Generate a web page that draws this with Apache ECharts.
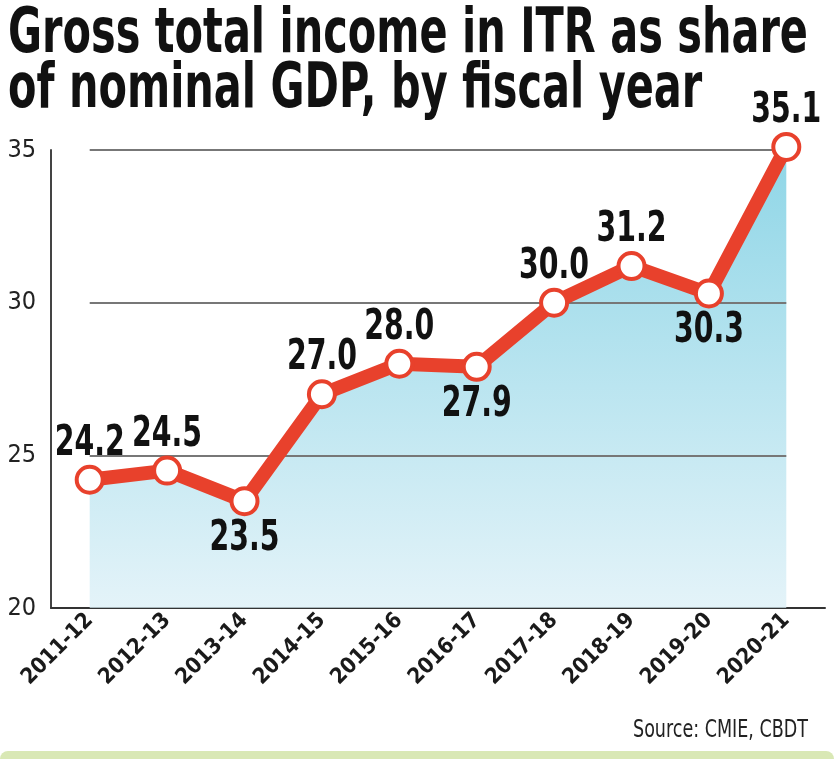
<!DOCTYPE html>
<html>
<head>
<meta charset="utf-8">
<title>ITR income share of GDP</title>
<script src="https://cdn.jsdelivr.net/npm/echarts@6/dist/echarts.min.js"></script>
<style>
  html, body { margin: 0; padding: 0; background: #fff; }
  #chart { width: 834px; height: 759px; }
</style>
</head>
<body>
<div id="chart"></div>
<script>
// fiscal years and share of GDP (%)
var years = ['2011-12', '2012-13', '2013-14', '2014-15', '2015-16', '2016-17', '2017-18', '2018-19', '2019-20', '2020-21'];
var shares = [24.2, 24.5, 23.5, 27.0, 28.0, 27.9, 30.0, 31.2, 30.3, 35.1];
// which labels sit under the point
var labelBelow = [false, false, true, false, false, true, false, false, true, false];
var yTicks = [25, 30, 35];

var titleLines = ['Gross total income in ITR as share', 'of nominal GDP, by fiscal year'];
var sourceText = 'Source: CMIE, CBDT';

var fam = '"DejaVu Sans Condensed", "DejaVu Sans", sans-serif';

// the original uses a very narrow face, so squeeze text horizontally
var ctx = document.createElement('canvas').getContext('2d');
function textWidth(txt, font) {
  ctx.font = font;
  return ctx.measureText(txt).width;
}
var titleFont = 'bold 62px ' + fam;
var titleScale = 800 / textWidth(titleLines[0], titleFont);
var sourceFont = '24px ' + fam;
var sourceScale = 175 / textWidth(sourceText, sourceFont);
var labelFont = 'bold 42px ' + fam;
var labelScale = 70 / textWidth('24.2', labelFont);

var chart = echarts.init(document.getElementById('chart'));

var gridLines = yTicks.map(function (t) {
  return [{ xAxis: -0.5, yAxis: t }, { xAxis: years.length - 1, yAxis: t }];
});

var labelData = shares.map(function (v, i) {
  return [i, v, labelBelow[i] ? 1 : 0];
});

var option = {
  backgroundColor: '#fff',
  animation: false,
  graphic: [{
    type: 'text',
    x: 8, y: 36,
    scaleX: titleScale,
    silent: true,
    style: { text: titleLines[0], font: titleFont, fill: '#111', align: 'left', verticalAlign: 'middle' }
  }, {
    type: 'text',
    x: 8, y: 91,
    scaleX: titleScale,
    silent: true,
    style: { text: titleLines[1], font: titleFont, fill: '#111', align: 'left', verticalAlign: 'middle' }
  }, {
    type: 'text',
    x: 808, y: 731,
    scaleX: sourceScale,
    silent: true,
    style: { text: sourceText, font: sourceFont, fill: '#222', align: 'right', verticalAlign: 'middle' }
  }, {
    type: 'rect',
    left: 0,
    top: 751,
    shape: { width: 834, height: 8, r: [8, 8, 0, 0] },
    style: { fill: '#d9e8b5' },
    silent: true
  }],
  grid: {
    left: 51,
    right: 9,
    top: 150,
    bottom: 151
  },
  xAxis: {
    type: 'category',
    data: years,
    boundaryGap: true,
    axisLine: { lineStyle: { color: '#333', width: 2 } },
    axisTick: {
      alignWithLabel: true,
      inside: true,
      length: 13,
      lineStyle: { color: '#333', width: 2 }
    },
    axisLabel: {
      rotate: 45,
      margin: 9,
      fontFamily: fam,
      fontWeight: 'bold',
      fontSize: 22,
      color: '#1a1a1a'
    },
    splitLine: { show: false }
  },
  yAxis: {
    type: 'value',
    min: 20,
    max: 35,
    interval: 5,
    axisLine: { show: true, lineStyle: { color: '#444', width: 2 } },
    axisTick: { show: false },
    axisLabel: {
      margin: 15,
      fontFamily: fam,
      fontSize: 25,
      color: '#222'
    },
    splitLine: { show: false }
  },
  series: [{
    // shaded area under the line, with the grid lines on top of it
    type: 'line',
    data: shares,
    z: 1,
    clip: false,
    symbol: 'none',
    lineStyle: { width: 0, opacity: 0 },
    areaStyle: {
      color: new echarts.graphic.LinearGradient(0, 0, 0, 1, [
        { offset: 0, color: '#5ec4dc' },
        { offset: 1, color: '#d8eef6' }
      ])
    },
    markLine: {
      silent: true,
      symbol: 'none',
      z: 2,
      label: { show: false },
      lineStyle: { color: '#777', width: 2, type: 'solid' },
      data: gridLines
    }
  }, {
    type: 'line',
    data: shares,
    z: 10,
    clip: false,
    symbol: 'circle',
    symbolSize: 26,
    lineStyle: { color: '#e8412c', width: 14 },
    itemStyle: { color: '#fff', borderColor: '#e8412c', borderWidth: 4 }
  }, {
    // value labels, narrowed like the original type
    type: 'custom',
    data: labelData,
    z: 12,
    clip: false,
    silent: true,
    renderItem: function (params, api) {
      var pt = api.coord([api.value(0), api.value(1)]);
      var below = api.value(2) === 1;
      return {
        type: 'text',
        x: pt[0],
        y: below ? pt[1] + 38 : pt[1] - 36,
        scaleX: labelScale,
        style: {
          text: api.value(1).toFixed(1),
          font: labelFont,
          fill: '#111',
          align: 'center',
          verticalAlign: 'middle'
        }
      };
    }
  }]
};

chart.setOption(option);
</script>
</body>
</html>
